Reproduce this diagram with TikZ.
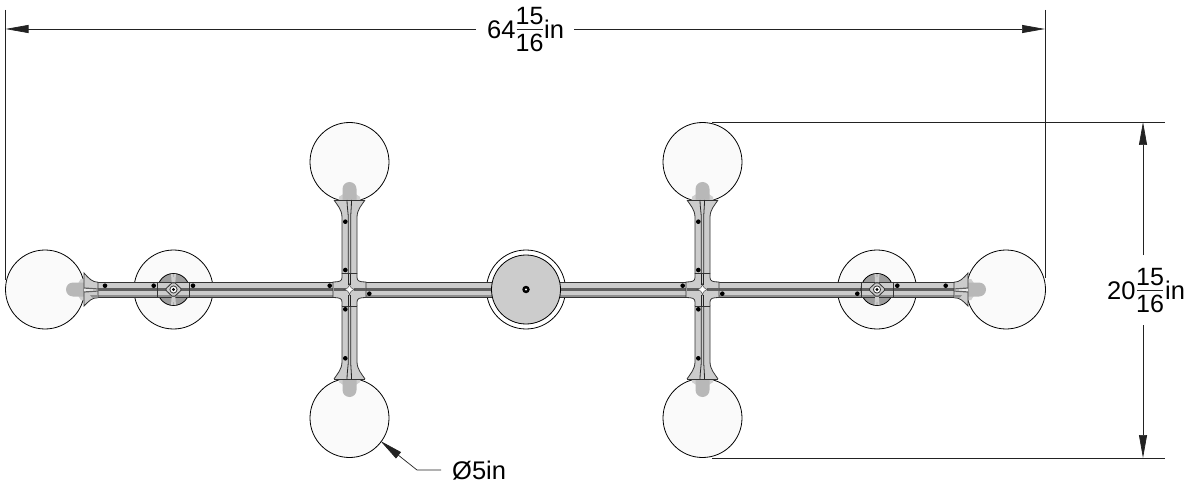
\documentclass[tikz,border=0pt]{standalone}
\usepackage{fontspec}
\setmainfont{Liberation Sans}
\usetikzlibrary{arrows.meta,shapes.geometric}
\pgfdeclareradialshading{globeshade}{\pgfpointorigin}{color(0bp)=(white!98!black);color(36bp)=(white!98!black);color(46bp)=(white!94!black);color(50bp)=(white!84!black)}
\definecolor{armfill}{HTML}{CCCCCC}
\definecolor{armmid}{HTML}{8E8E8E}
\definecolor{armdark}{HTML}{606060}
\definecolor{stubfill}{HTML}{B8B8B8}
\definecolor{stublight}{HTML}{CFCFCF}
\definecolor{dimcol}{HTML}{222222}
\tikzset{
  globe/.style={circle,draw=black,line width=0.8pt,minimum size=79pt,inner sep=0pt,shading=globeshade},
  ringglobe/.style={circle,draw=black,line width=0.8pt,minimum size=79pt,inner sep=0pt,fill=white},
  canopy/.style={circle,draw=black,line width=0.8pt,minimum size=69pt,inner sep=0pt,fill=armfill},
  armline/.style={draw=black!80,line width=0.8pt},
  thinline/.style={draw=black,line width=0.8pt},
  screw/.style={circle,fill=black,minimum size=4.6pt,inner sep=0pt},
  dimline/.style={draw=dimcol,line width=0.7pt},
  dimhead/.style={dimline,-{Triangle[length=23pt,width=8pt]}},
  dimtext/.style={inner sep=0pt,anchor=base west,font=\fontsize{25.5}{25.5}\selectfont},
  fractext/.style={inner sep=0pt,font=\fontsize{25}{25}\selectfont}
}
\newcommand{\armbar}[2]{%
  \fill[armfill] (#1,282) rectangle (#2,297.5);
  \fill[armmid] (#1,295) rectangle (#2,297.5);
  \fill[armdark] (#1,288) rectangle (#2,291);
  \draw[armline] (#1,282) -- (#2,282);
  \draw[armline] (#1,297.5) -- (#2,297.5);
}
\newcommand{\armflare}{%
  \path[fill=armfill,armline] (0,-16.5) .. controls (5,-11) and (8,-7.5) .. (14,-7.25) -- (14,8.25) .. controls (8,8) and (5,11.5) .. (0,16.5) -- cycle;
  \path[fill=white!60!armfill] (0,-1.5) -- (14,0) -- (14,1) -- (0,2.5) -- cycle;
  \fill[armmid] (8,8) -- (14,8) -- (14,5.5) -- (6,5.5) -- cycle;
  \draw[armdark,line width=1.2pt] (0,-1.5) -- (14,-0.5);
  \draw[armdark,line width=1.2pt] (0,2.5) -- (14,1.5);
}
\newcommand{\armup}{%
  \path[fill=armfill] (-15.5,-89.5) .. controls (-12,-84) and (-7.5,-80) .. (-7.5,-72) -- (-7.5,-16) -- (7.5,-16) -- (7.5,-72) .. controls (7.5,-80) and (12,-84) .. (15.5,-89.5) -- cycle;
  \draw[armline] (-15.5,-89.5) .. controls (-12,-84) and (-7.5,-80) .. (-7.5,-72) -- (-7.5,-16);
  \draw[armline] (7.5,-16) -- (7.5,-72) .. controls (7.5,-80) and (12,-84) .. (15.5,-89.5);
  \draw[armline] (-15.5,-89.5) -- (15.5,-89.5);
  \draw[armline] (-7.5,-16.5) -- (7.5,-16.5);
  \draw[black!85,line width=0.8pt] (-1.2,-16) -- (-1.2,-70) .. controls (-1.2,-78) and (-2.5,-82) .. (-2.5,-89.5);
  \draw[black!85,line width=0.8pt] (1.2,-16) -- (1.2,-70) .. controls (1.2,-78) and (2,-82) .. (2,-89.5);
}
\newcommand{\stubup}{%
  \fill[stublight] (-10.5,-89.5) -- (-10.5,-93) to[out=-90,in=180] (-7,-95) -- (7,-95) to[out=0,in=-90] (10.5,-93) -- (10.5,-89.5) -- cycle;
  \fill[stubfill] (-7,-89.5) -- (-7,-100.5) arc[start angle=180,end angle=360,radius=7] -- (7,-89.5) -- cycle;
}
\newcommand{\crossunit}{%
  \stubup
  \begin{scope}[yscale=-1]\stubup\end{scope}
  \armup
  \begin{scope}[yscale=-1]\armup\end{scope}
  \path[fill=armfill] (-7.5,-16.5) -- (-7.5,-12) .. controls (-7.5,-8.5) and (-10,-7.5) .. (-16.5,-7.5) -- (-16.5,8) .. controls (-10,8) and (-7.5,9) .. (-7.5,12.5) -- (-7.5,16.5) -- (7.5,16.5) -- (7.5,12.5) .. controls (7.5,9) and (10,8) .. (16.5,8) -- (16.5,-7.5) .. controls (10,-7.5) and (7.5,-8.5) .. (7.5,-12) -- (7.5,-16.5) -- cycle;
  \draw[armline] (-7.5,-16.5) -- (-7.5,-12) .. controls (-7.5,-8.5) and (-10,-7.5) .. (-16.5,-7.5) -- (-16.5,8) .. controls (-10,8) and (-7.5,9) .. (-7.5,12.5) -- (-7.5,16.5);
  \draw[armline] (7.5,-16.5) -- (7.5,-12) .. controls (7.5,-8.5) and (10,-7.5) .. (16.5,-7.5) -- (16.5,8) .. controls (10,8) and (7.5,9) .. (7.5,12.5) -- (7.5,16.5);
  \draw[armline] (-7.5,-16.5) -- (7.5,-16.5) (-7.5,16.5) -- (7.5,16.5);
  \fill[armdark] (-16,-1.5) rectangle (-4,1.5);
  \fill[armdark] (4,-1.5) rectangle (16,1.5);
  \draw[black!85,line width=0.8pt] (-1.2,-16) -- (-1.2,-5) (1.2,-16) -- (1.2,-5) (-1.2,16) -- (-1.2,5) (1.2,16) -- (1.2,5);
  \path[fill=white,draw=black!70,line width=0.5pt] (0,-5.5) .. controls (0.8,-2) and (2,-0.8) .. (5.5,0) .. controls (2,0.8) and (0.8,2) .. (0,5.5) .. controls (-0.8,2) and (-2,0.8) .. (-5.5,0) .. controls (-2,-0.8) and (-0.8,-2) .. (0,-5.5) -- cycle;
}
\newcommand{\hubunit}{%
  \path[fill=armmid!75!armfill,thinline] (0,0) circle[radius=16];
  \fill[armfill] (-16,-7.5) rectangle (16,8);
  \fill[armmid] (-16,5.5) rectangle (16,8);
  \fill[armdark] (-16,-1.5) rectangle (16,1.5);
  \draw[armline] (-16,-7.5) -- (16,-7.5) (-16,8) -- (16,8);
  \draw[armfill,line width=2pt] (-1.5,-15.5) -- (-0.8,-7) (1.5,-15.5) -- (0.8,-7);
  \draw[armfill,line width=2pt] (-1.5,15.5) -- (-0.8,7) (1.5,15.5) -- (0.8,7);
  \draw[armline] (-16,-8) -- (-16,8.5) (16,-8) -- (16,8.5);
  \path[fill=armfill,armline,rounded corners=2pt] (0,-8) -- (8.5,0) -- (0,8) -- (-8.5,0) -- cycle;
  \path[fill=white,armline] (0,0) circle[radius=3.6];
  \fill[black] (0,0) circle[radius=1.7];
}
\begin{document}
\begin{tikzpicture}[x=1pt,y=-1pt]
\useasboundingbox[fill=white] (0,0) rectangle (1186,489);
\node[globe] (gL) at (45,289.5) {};
\node[globe] (gHL) at (173.5,289.5) {};
\node[globe] (gT1) at (349.5,162) {};
\node[globe] (gB1) at (349.5,418) {};
\node[globe] (gT2) at (702.5,162) {};
\node[globe] (gB2) at (702.5,418) {};
\node[globe] (gHR) at (877,289.5) {};
\node[globe] (gR) at (1006,289.5) {};
\node[ringglobe] (gC) at (526,289.5) {};
\begin{scope}[shift={(173.5,289.5)},rotate=90]\stubup\end{scope}
\begin{scope}[shift={(878.5,289.5)},rotate=-90]\stubup\end{scope}
\armbar{98}{334}
\armbar{365}{688}
\armbar{718}{954}
\begin{scope}[shift={(84,289.5)}]\armflare\end{scope}
\begin{scope}[shift={(968,289.5)},xscale=-1]\armflare\end{scope}
\begin{scope}[shift={(349.5,289.5)}]\crossunit\end{scope}
\begin{scope}[shift={(702.5,289.5)}]\crossunit\end{scope}
\begin{scope}[shift={(173.5,289.5)}]\hubunit\end{scope}
\begin{scope}[shift={(877,289.5)}]\hubunit\end{scope}
\node[canopy] (cn) at (526,289.5) {};
\node[circle,fill=black,minimum size=7.5pt,inner sep=0pt] (cs) at (526,289.5) {};
\node[circle,fill=white,minimum size=2.4pt,inner sep=0pt] (csi) at (526,289.5) {};
\foreach \n/\a/\b in {a/105/285.7,b/153.7/285.7,c/193/285.7,d/329.7/285.7,e/369.3/293.7,f/345.3/221.7,g/345.3/270,h/345.3/309.3,i/345.3/358.3,j/682.7/285.7,k/722.3/293.7,l/698.3/221.7,m/698.3/270,n/698.3/309.3,o/698.3/358.3,p/857.3/293.7,q/897.3/285.7,r/945.7/285.7}
  \node[screw] (s\n) at (\a,\b) {};
\coordinate (wA) at (5.5,10);
\coordinate (wAe) at (5.5,280);
\coordinate (wB) at (1045,10);
\coordinate (wBe) at (1045,278);
\coordinate (wL) at (5.5,29);
\coordinate (wR) at (1045,29);
\draw[dimline] (wA) -- (wAe);
\draw[dimline] (wB) -- (wBe);
\node[dimtext] (w64) at (487,38.5) {64};
\node[fractext] (wn) at (529.5,16) {15};
\node[fractext] (wd) at (529.5,43) {16};
\coordinate (wbL) at (516.5,29);
\coordinate (wbR) at (542.5,29);
\draw[dimline,line width=0.9pt] (wbL) -- (wbR);
\node[dimtext] (win) at (544,38.5) {in};
\coordinate (wgL) at (476,29);
\coordinate (wgR) at (574,29);
\draw[dimhead] (wgL) -- (wL);
\draw[dimhead] (wgR) -- (wR);
\coordinate (hA) at (712,122);
\coordinate (hAe) at (1165,122);
\coordinate (hB) at (712,458);
\coordinate (hBe) at (1165,458);
\coordinate (hT) at (1143,122);
\coordinate (hTg) at (1143,255);
\coordinate (hBo) at (1143,458);
\coordinate (hBg) at (1143,325);
\draw[dimline] (hA) -- (hAe);
\draw[dimline] (hB) -- (hBe);
\draw[dimhead] (hTg) -- (hT);
\draw[dimhead] (hBg) -- (hBo);
\node[dimtext] (h20) at (1107,299) {20};
\node[fractext] (hn) at (1150,277) {15};
\node[fractext] (hd) at (1150,304) {16};
\coordinate (hbL) at (1137,290);
\coordinate (hbR) at (1163,290);
\draw[dimline,line width=0.9pt] (hbL) -- (hbR);
\node[dimtext] (hin) at (1165,299) {in};
\coordinate (dTip) at (380.5,441);
\coordinate (dK) at (417,470);
\coordinate (dE) at (441,470);
\node[dimtext] (dT) at (452,479) {Ø5in};
\draw[dimhead] (dE) -- (dK) -- (dTip);
\end{tikzpicture}
\end{document}
